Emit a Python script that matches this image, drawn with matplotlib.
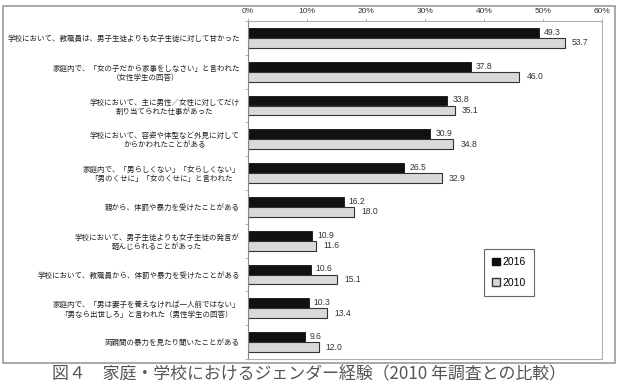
import numpy as np
import matplotlib.pyplot as plt
from matplotlib.patches import Rectangle, Patch

plt.rcParams['font.family'] = ['Noto Sans CJK JP', 'DejaVu Sans']

# データ（上から順）
categories = [
    '学校において、教職員は、男子生徒よりも女子生徒に対して甘かった',
    '家庭内で、「女の子だから家事をしなさい」と言われた\n（女性学生の回答）',
    '学校において、主に男性／女性に対してだけ\n割り当てられた仕事があった',
    '学校において、容姿や体型など外見に対して\nからかわれたことがある',
    '家庭内で、「男らしくない」「女らしくない」\n「男のくせに」「女のくせに」と言われた',
    '親から、体罰や暴力を受けたことがある',
    '学校において、男子生徒よりも女子生徒の発言が\n軽んじられることがあった',
    '学校において、教職員から、体罰や暴力を受けたことがある',
    '家庭内で、「男は妻子を養えなければ一人前ではない」\n「男なら出世しろ」と言われた（男性学生の回答）',
    '両親間の暴力を見たり聞いたことがある',
]
vals_2016 = [49.3, 37.8, 33.8, 30.9, 26.5, 16.2, 10.9, 10.6, 10.3, 9.6]
vals_2010 = [53.7, 46.0, 35.1, 34.8, 32.9, 18.0, 11.6, 15.1, 13.4, 12.0]
xticks = [0, 10, 20, 30, 40, 50, 60]
caption = '図４　家庭・学校におけるジェンダー経験（2010 年調査との比較）'

W, H = 621, 382
num_font = ['Liberation Sans', 'DejaVu Sans']
fig = plt.figure(figsize=(W / 100, H / 100), dpi=100)
ax = fig.add_axes([248 / W, 1 - 359 / H, (602 - 248) / W, (359 - 21) / H])

y = np.arange(len(categories))
bh = 0.29
ax.barh(y - bh / 2, vals_2016, height=bh, color='#111111', edgecolor='#111111',
        linewidth=0.6, label='2016')
ax.barh(y + bh / 2, vals_2010, height=bh, color='#d9d9d9', edgecolor='#333333',
        linewidth=0.8, label='2010')

for i, (a, b) in enumerate(zip(vals_2016, vals_2010)):
    ax.annotate(f'{a:.1f}', (a, i - bh / 2), xytext=(3.5, 0.5), textcoords='offset points',
                va='center', ha='left', fontsize=6.2, color='#333333', family=num_font)
    ax.annotate(f'{b:.1f}', (b, i + bh / 2), xytext=(5, 0), textcoords='offset points',
                va='center', ha='left', fontsize=6.2, color='#333333', family=num_font)

ax.set_xlim(0, 60)
ax.set_ylim(len(categories) - 0.5, -0.5)
ax.set_xticks(xticks)
ax.set_xticklabels([f'{t}%' for t in xticks], fontsize=6, color='#333333', family=num_font)
ax.xaxis.tick_top()
ax.tick_params(axis='x', length=2, width=0.5, color='#999999', pad=2)

ax.set_yticks(y)
ax.set_yticklabels(categories, fontsize=5.4, color='#222222', multialignment='center')
ax.set_yticks(np.arange(len(categories) + 1) - 0.5, minor=True)
ax.tick_params(axis='y', which='major', length=0, pad=6)
ax.tick_params(axis='y', which='minor', length=2, width=0.5, color='#999999')

for s in ['top', 'right', 'bottom']:
    ax.spines[s].set_color('#b0b0b0')
    ax.spines[s].set_linewidth(0.8)
ax.spines['left'].set_color('#888888')
ax.spines['left'].set_linewidth(0.8)

handles = [Patch(facecolor='#111111', edgecolor='#111111', label='2016'),
           Patch(facecolor='#d9d9d9', edgecolor='#333333', label='2010')]
leg = ax.legend(handles=handles, loc='upper left',
                bbox_to_anchor=(484 / W, 1 - 249 / H), bbox_transform=fig.transFigure,
                borderaxespad=0, fancybox=False, edgecolor='#666666', framealpha=1,
                handlelength=0.7, handleheight=0.7, handletextpad=0.25,
                labelspacing=1.0, borderpad=0.8,
                prop={'family': num_font, 'size': 7.5})
leg.get_frame().set_linewidth(0.8)

# 外枠
fig.patches.append(Rectangle((3 / W, 1 - 363 / H), (615 - 3) / W, (363 - 6) / H,
                             transform=fig.transFigure, fill=False,
                             edgecolor='#9a9a9a', linewidth=1.2))

fig.text(0.497, 1 - 374 / H, caption, ha='center', va='center', fontsize=12.2,
         color='#555555')

fig.savefig('out.png', dpi=100)
